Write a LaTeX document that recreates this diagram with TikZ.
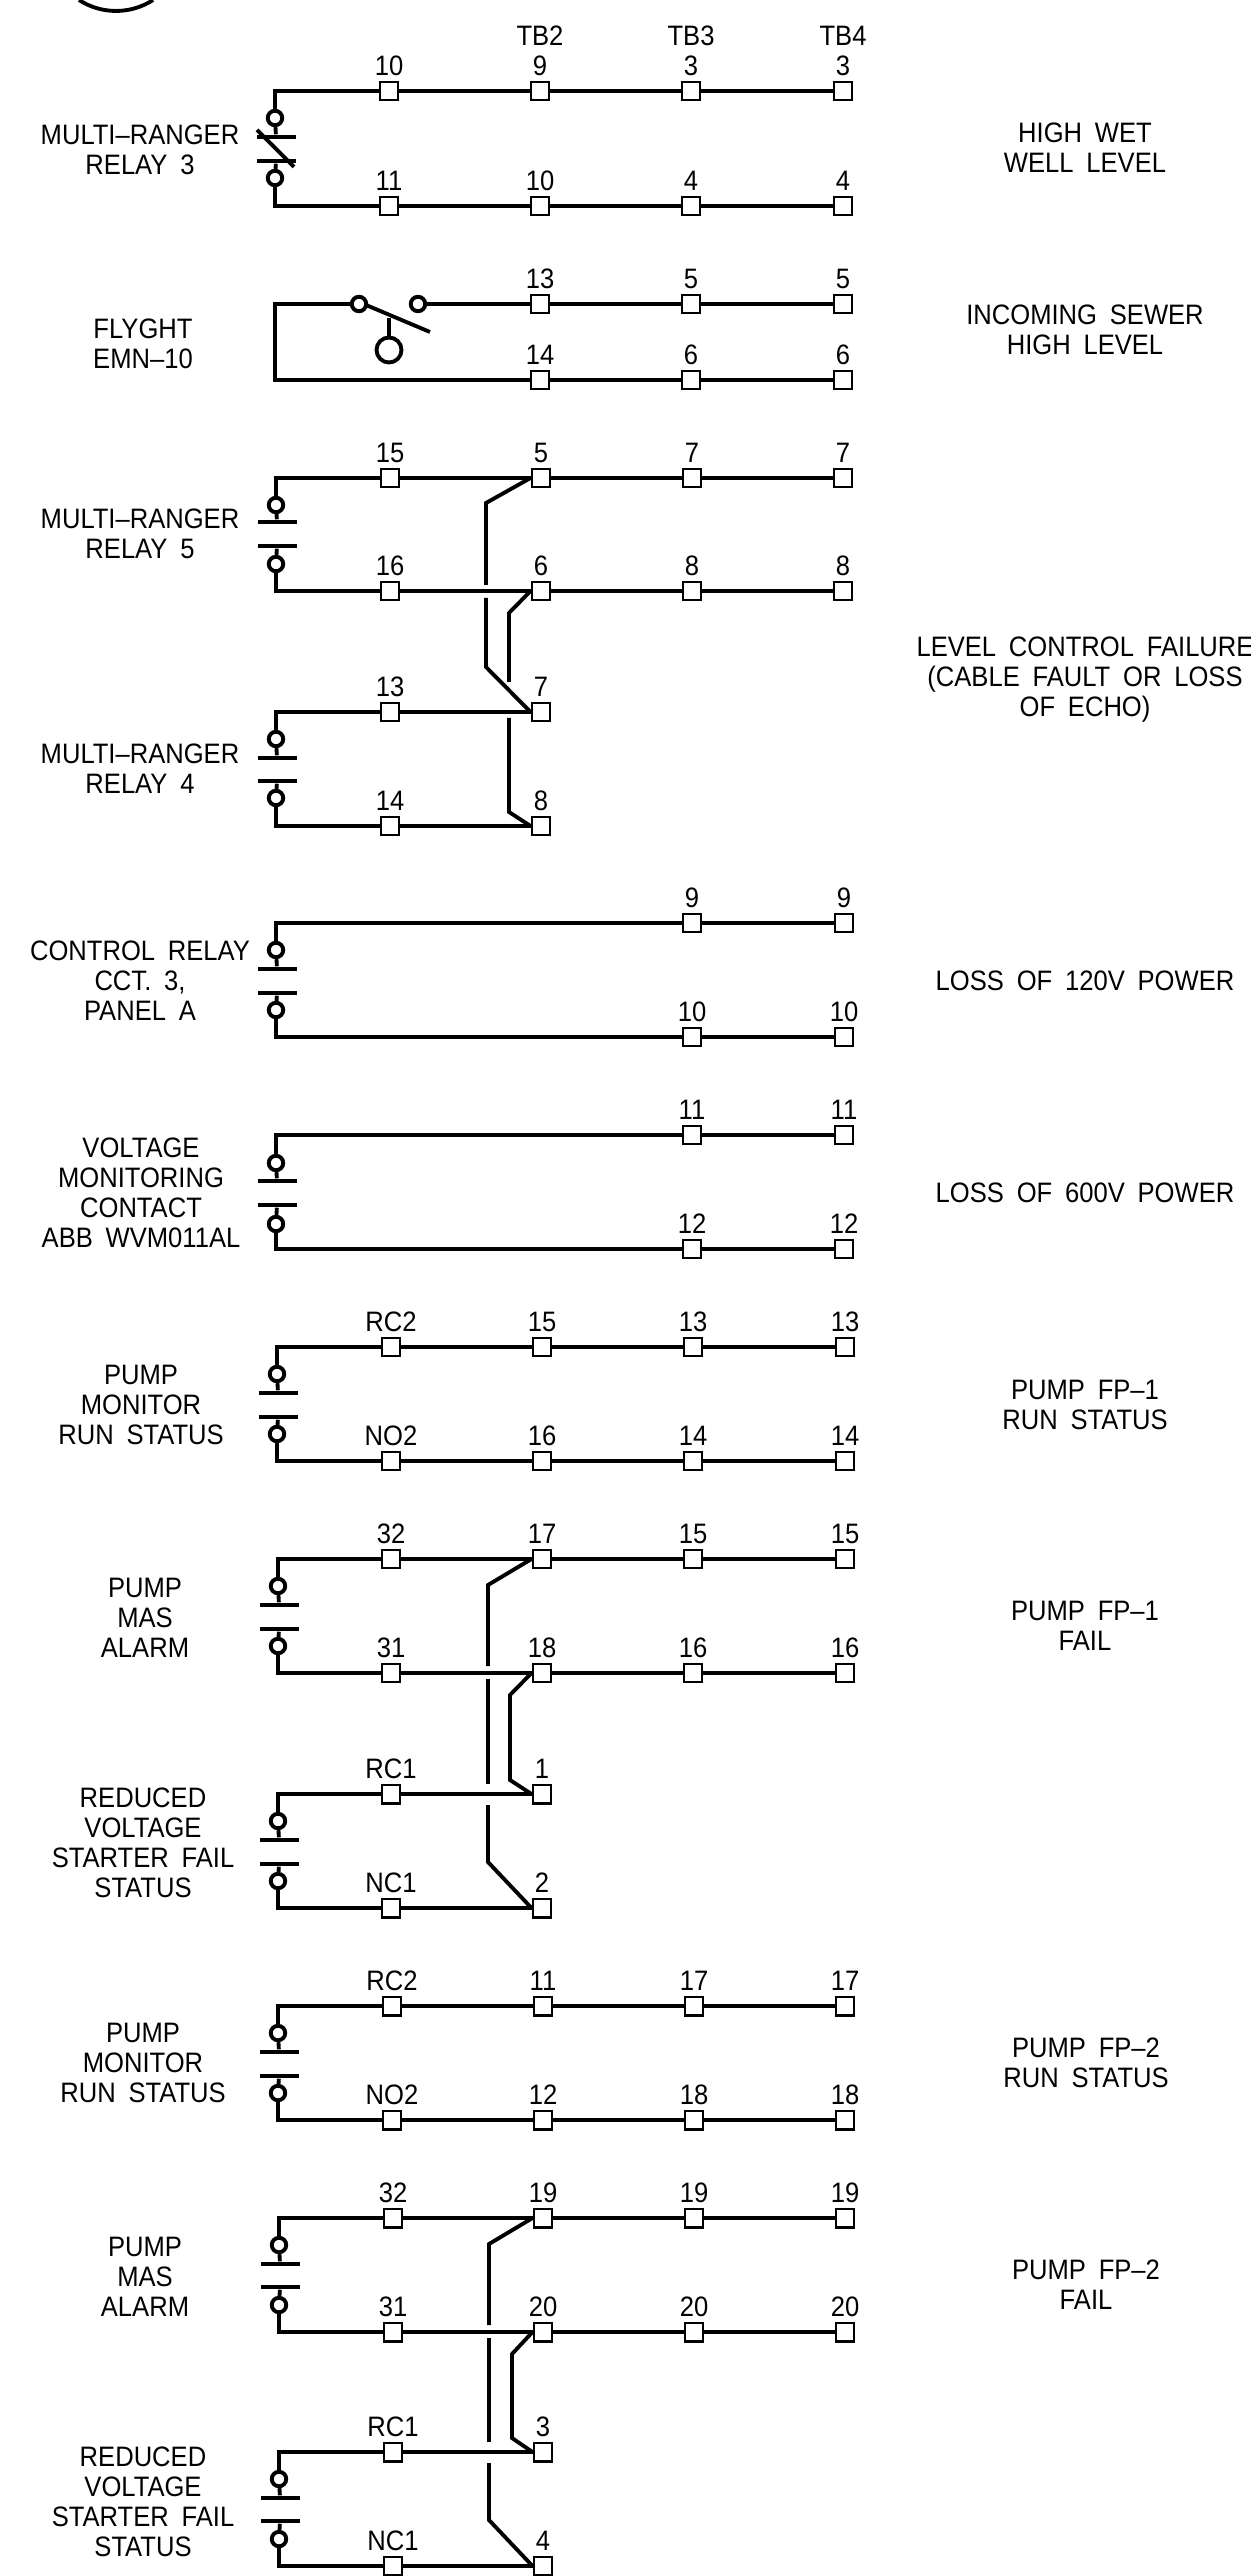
\documentclass[tikz,border=0pt]{standalone}
\usepackage{fontspec}
\setmainfont[FakeStretch=0.91,WordSpace=1.8]{Liberation Sans}

\tikzset{
  wire/.style={line width=1.1pt},
  lab/.style={align=center,inner sep=0pt,font=\fontsize{8}{8.55}\selectfont},
  term/.style={draw,fill=white,line width=0.7pt,minimum size=0.185cm,inner sep=0pt,
    label={[inner sep=0pt,yshift=0.04cm,font=\fontsize{8}{8.55}\selectfont]above:#1}},
  ring/.style={circle,draw,line width=1.1pt,fill=white,minimum size=0.145cm,inner sep=0pt},
  bar/.style={rectangle,fill=black,minimum width=0.39cm,minimum height=0.04cm,inner sep=0pt}
}

\begin{document}
\begin{tikzpicture}
\useasboundingbox (0,0) rectangle (12.51,-25.76);

\draw[wire] (0.79,0) arc (-123:-57:0.68);

\node[lab] (tb2) at (5.40,-0.36) {TB2};
\node[lab] (tb3) at (6.91,-0.36) {TB3};
\node[lab] (tb4) at (8.43,-0.36) {TB4};

% multi-ranger relay 3
\node[lab] (lmr3) at (1.40,-1.50) {MULTI--RANGER\\RELAY 3};
\node[lab] (rmr3) at (10.85,-1.48) {HIGH WET\\WELL LEVEL};
\node[term=10] (a1) at (3.89,-0.91) {};
\node[term=9] (a2) at (5.40,-0.91) {};
\node[term=3] (a3) at (6.91,-0.91) {};
\node[term=3] (a4) at (8.43,-0.91) {};
\node[term=11] (b1) at (3.89,-2.06) {};
\node[term=10] (b2) at (5.40,-2.06) {};
\node[term=4] (b3) at (6.91,-2.06) {};
\node[term=4] (b4) at (8.43,-2.06) {};
\node[ring] (ka1) at (2.75,-1.18) {};
\node[ring] (kb1) at (2.75,-1.78) {};
\node[bar] (ua1) at (2.76,-1.37) {};
\node[bar] (ub1) at (2.76,-1.61) {};
\coordinate (sa1) at (2.57,-1.30);
\coordinate (sb1) at (2.94,-1.67);
\draw[wire] (ka1) |- (a1) -- (a2) -- (a3) -- (a4);
\draw[wire] (kb1) |- (b1) -- (b2) -- (b3) -- (b4);
\draw[wire] (ka1) -- (ua1);
\draw[wire] (kb1) -- (ub1);
\draw[wire] (sa1) -- (sb1);

% flyght
\node[lab] (lfl) at (1.43,-3.44) {FLYGHT\\EMN--10};
\node[lab] (rfl) at (10.85,-3.30) {INCOMING SEWER\\HIGH LEVEL};
\node[term=13] (c2) at (5.40,-3.04) {};
\node[term=5] (c3) at (6.91,-3.04) {};
\node[term=5] (c4) at (8.43,-3.04) {};
\node[term=14] (d2) at (5.40,-3.80) {};
\node[term=6] (d3) at (6.91,-3.80) {};
\node[term=6] (d4) at (8.43,-3.80) {};
\node[ring] (fa) at (3.59,-3.04) {};
\node[ring] (fb) at (4.18,-3.04) {};
\node[circle,draw,line width=1.1pt,minimum size=0.25cm,inner sep=0pt] (fc) at (3.89,-3.50) {};
\coordinate (fl) at (2.75,-3.04);
\coordinate (sa2) at (3.66,-3.05);
\coordinate (sb2) at (4.30,-3.32);
\coordinate (sc2) at (3.89,-3.18);
\draw[wire] (fa) -- (fl) |- (d2) -- (d3) -- (d4);
\draw[wire] (fb) -- (c2) -- (c3) -- (c4);
\draw[wire] (sa2) -- (sb2);
\draw[wire] (sc2) -- (fc);

% multi-ranger relay 5
\node[lab] (lmr5) at (1.40,-5.34) {MULTI--RANGER\\RELAY 5};
\node[lab] (rmr5) at (10.85,-6.80) {LEVEL CONTROL FAILURE\\(CABLE FAULT OR LOSS\\OF ECHO)};
\node[term=15] (e1) at (3.90,-4.78) {};
\node[term=5] (e2) at (5.41,-4.78) {};
\node[term=7] (e3) at (6.92,-4.78) {};
\node[term=7] (e4) at (8.43,-4.78) {};
\node[term=16] (f1) at (3.90,-5.91) {};
\node[term=6] (f2) at (5.41,-5.91) {};
\node[term=8] (f3) at (6.92,-5.91) {};
\node[term=8] (f4) at (8.43,-5.91) {};
\node[ring] (ka3) at (2.76,-5.05) {};
\node[ring] (kb3) at (2.76,-5.64) {};
\node[bar] (ua3) at (2.77,-5.22) {};
\node[bar] (ub3) at (2.77,-5.46) {};
\draw[wire] (ka3) |- (e1) -- (e2) -- (e3) -- (e4);
\draw[wire] (kb3) |- (f1) -- (f2) -- (f3) -- (f4);
\draw[wire] (ka3) -- (ua3);
\draw[wire] (kb3) -- (ub3);

% multi-ranger relay 4
\node[lab] (lmr4) at (1.40,-7.69) {MULTI--RANGER\\RELAY 4};
\node[term=13] (g1) at (3.90,-7.12) {};
\node[term=7] (g2) at (5.41,-7.12) {};
\node[term=14] (h1) at (3.90,-8.26) {};
\node[term=8] (h2) at (5.41,-8.26) {};
\node[ring] (ka4) at (2.76,-7.39) {};
\node[ring] (kb4) at (2.76,-7.98) {};
\node[bar] (ua4) at (2.77,-7.58) {};
\node[bar] (ub4) at (2.77,-7.81) {};
\draw[wire] (ka4) |- (g1) -- (g2);
\draw[wire] (kb4) |- (h1) -- (h2);
\draw[wire] (ka4) -- (ua4);
\draw[wire] (kb4) -- (ub4);

\coordinate (ja1) at (4.86,-5.03);
\coordinate (ja2) at (4.86,-5.85);
\coordinate (ja3) at (4.86,-5.98);
\coordinate (ja4) at (4.86,-6.67);
\coordinate (jb1) at (5.09,-6.13);
\coordinate (jb2) at (5.09,-6.82);
\coordinate (jb3) at (5.09,-7.18);
\coordinate (jb4) at (5.09,-8.12);
\draw[wire] (e2.west) -- (ja1) -- (ja2);
\draw[wire] (ja3) -- (ja4) -- (g2.west);
\draw[wire] (f2.west) -- (jb1) -- (jb2);
\draw[wire] (jb3) -- (jb4) -- (h2.west);

% control relay
\node[lab] (lcr) at (1.40,-9.81) {CONTROL RELAY\\CCT. 3,\\PANEL A};
\node[lab] (rcr) at (10.85,-9.81) {LOSS OF 120V POWER};
\node[term=9] (i3) at (6.92,-9.23) {};
\node[term=9] (i4) at (8.44,-9.23) {};
\node[term=10] (j3) at (6.92,-10.37) {};
\node[term=10] (j4) at (8.44,-10.37) {};
\node[ring] (ka5) at (2.76,-9.50) {};
\node[ring] (kb5) at (2.76,-10.10) {};
\node[bar] (ua5) at (2.77,-9.69) {};
\node[bar] (ub5) at (2.77,-9.93) {};
\draw[wire] (ka5) |- (i3) -- (i4);
\draw[wire] (kb5) |- (j3) -- (j4);
\draw[wire] (ka5) -- (ua5);
\draw[wire] (kb5) -- (ub5);

% voltage monitoring
\node[lab] (lvm) at (1.41,-11.93) {VOLTAGE\\MONITORING\\CONTACT\\ABB WVM011AL};
\node[lab] (rvm) at (10.85,-11.93) {LOSS OF 600V POWER};
\node[term=11] (k3) at (6.92,-11.35) {};
\node[term=11] (k4) at (8.44,-11.35) {};
\node[term=12] (l3) at (6.92,-12.49) {};
\node[term=12] (l4) at (8.44,-12.49) {};
\node[ring] (ka6) at (2.76,-11.63) {};
\node[ring] (kb6) at (2.76,-12.24) {};
\node[bar] (ua6) at (2.77,-11.81) {};
\node[bar] (ub6) at (2.77,-12.05) {};
\draw[wire] (ka6) |- (k3) -- (k4);
\draw[wire] (kb6) |- (l3) -- (l4);
\draw[wire] (ka6) -- (ua6);
\draw[wire] (kb6) -- (ub6);

% pump fp-1 monitor
\node[lab] (lpm1) at (1.41,-14.05) {PUMP\\MONITOR\\RUN STATUS};
\node[lab] (rpm1) at (10.85,-14.05) {PUMP FP--1\\RUN STATUS};
\node[term=RC2] (m1) at (3.91,-13.47) {};
\node[term=15] (m2) at (5.42,-13.47) {};
\node[term=13] (m3) at (6.93,-13.47) {};
\node[term=13] (m4) at (8.45,-13.47) {};
\node[term=NO2] (n1) at (3.91,-14.61) {};
\node[term=16] (n2) at (5.42,-14.61) {};
\node[term=14] (n3) at (6.93,-14.61) {};
\node[term=14] (n4) at (8.45,-14.61) {};
\node[ring] (ka7) at (2.77,-13.74) {};
\node[ring] (kb7) at (2.77,-14.34) {};
\node[bar] (ua7) at (2.78,-13.93) {};
\node[bar] (ub7) at (2.78,-14.17) {};
\draw[wire] (ka7) |- (m1) -- (m2) -- (m3) -- (m4);
\draw[wire] (kb7) |- (n1) -- (n2) -- (n3) -- (n4);
\draw[wire] (ka7) -- (ua7);
\draw[wire] (kb7) -- (ub7);

% pump fp-1 alarm
\node[lab] (lpa1) at (1.45,-16.18) {PUMP\\MAS\\ALARM};
\node[lab] (rpa1) at (10.85,-16.26) {PUMP FP--1\\FAIL};
\node[term=32] (o1) at (3.91,-15.59) {};
\node[term=17] (o2) at (5.42,-15.59) {};
\node[term=15] (o3) at (6.93,-15.59) {};
\node[term=15] (o4) at (8.45,-15.59) {};
\node[term=31] (p1) at (3.91,-16.73) {};
\node[term=18] (p2) at (5.42,-16.73) {};
\node[term=16] (p3) at (6.93,-16.73) {};
\node[term=16] (p4) at (8.45,-16.73) {};
\node[ring] (ka8) at (2.78,-15.86) {};
\node[ring] (kb8) at (2.78,-16.46) {};
\node[bar] (ua8) at (2.79,-16.05) {};
\node[bar] (ub8) at (2.79,-16.29) {};
\draw[wire] (ka8) |- (o1) -- (o2) -- (o3) -- (o4);
\draw[wire] (kb8) |- (p1) -- (p2) -- (p3) -- (p4);
\draw[wire] (ka8) -- (ua8);
\draw[wire] (kb8) -- (ub8);

% reduced voltage starter 1
\node[lab] (lrv1) at (1.43,-18.43) {REDUCED\\VOLTAGE\\STARTER FAIL\\STATUS};
\node[term=RC1] (q1) at (3.91,-17.94) {};
\node[term=1] (q2) at (5.42,-17.94) {};
\node[term=NC1] (r1) at (3.91,-19.08) {};
\node[term=2] (r2) at (5.42,-19.08) {};
\node[ring] (ka9) at (2.78,-18.21) {};
\node[ring] (kb9) at (2.78,-18.81) {};
\node[bar] (ua9) at (2.79,-18.40) {};
\node[bar] (ub9) at (2.79,-18.64) {};
\draw[wire] (ka9) |- (q1) -- (q2);
\draw[wire] (kb9) |- (r1) -- (r2);
\draw[wire] (ka9) -- (ua9);
\draw[wire] (kb9) -- (ub9);

\coordinate (la1) at (4.88,-15.85);
\coordinate (la2) at (4.88,-16.66);
\coordinate (la3) at (4.88,-16.79);
\coordinate (la4) at (4.88,-17.84);
\coordinate (la5) at (4.88,-18.05);
\coordinate (la6) at (4.88,-18.62);
\coordinate (lb1) at (5.10,-16.95);
\coordinate (lb2) at (5.10,-17.80);
\draw[wire] (o2.west) -- (la1) -- (la2);
\draw[wire] (la3) -- (la4);
\draw[wire] (la5) -- (la6) -- (r2.west);
\draw[wire] (p2.west) -- (lb1) -- (lb2) -- (q2.west);

% pump fp-2 monitor
\node[lab] (lpm2) at (1.43,-20.63) {PUMP\\MONITOR\\RUN STATUS};
\node[lab] (rpm2) at (10.86,-20.63) {PUMP FP--2\\RUN STATUS};
\node[term=RC2] (s1) at (3.92,-20.06) {};
\node[term=11] (s2) at (5.43,-20.06) {};
\node[term=17] (s3) at (6.94,-20.06) {};
\node[term=17] (s4) at (8.45,-20.06) {};
\node[term=NO2] (t1) at (3.92,-21.20) {};
\node[term=12] (t2) at (5.43,-21.20) {};
\node[term=18] (t3) at (6.94,-21.20) {};
\node[term=18] (t4) at (8.45,-21.20) {};
\node[ring] (ka10) at (2.78,-20.33) {};
\node[ring] (kb10) at (2.78,-20.93) {};
\node[bar] (ua10) at (2.79,-20.52) {};
\node[bar] (ub10) at (2.79,-20.76) {};
\draw[wire] (ka10) |- (s1) -- (s2) -- (s3) -- (s4);
\draw[wire] (kb10) |- (t1) -- (t2) -- (t3) -- (t4);
\draw[wire] (ka10) -- (ua10);
\draw[wire] (kb10) -- (ub10);

% pump fp-2 alarm
\node[lab] (lpa2) at (1.45,-22.77) {PUMP\\MAS\\ALARM};
\node[lab] (rpa2) at (10.86,-22.85) {PUMP FP--2\\FAIL};
\node[term=32] (u1) at (3.93,-22.18) {};
\node[term=19] (u2) at (5.43,-22.18) {};
\node[term=19] (u3) at (6.94,-22.18) {};
\node[term=19] (u4) at (8.45,-22.18) {};
\node[term=31] (v1) at (3.93,-23.32) {};
\node[term=20] (v2) at (5.43,-23.32) {};
\node[term=20] (v3) at (6.94,-23.32) {};
\node[term=20] (v4) at (8.45,-23.32) {};
\node[ring] (ka11) at (2.79,-22.45) {};
\node[ring] (kb11) at (2.79,-23.05) {};
\node[bar] (ua11) at (2.80,-22.64) {};
\node[bar] (ub11) at (2.80,-22.87) {};
\draw[wire] (ka11) |- (u1) -- (u2) -- (u3) -- (u4);
\draw[wire] (kb11) |- (v1) -- (v2) -- (v3) -- (v4);
\draw[wire] (ka11) -- (ua11);
\draw[wire] (kb11) -- (ub11);

% reduced voltage starter 2
\node[lab] (lrv2) at (1.43,-25.02) {REDUCED\\VOLTAGE\\STARTER FAIL\\STATUS};
\node[term=RC1] (w1) at (3.93,-24.52) {};
\node[term=3] (w2) at (5.43,-24.52) {};
\node[term=NC1] (x1) at (3.93,-25.66) {};
\node[term=4] (x2) at (5.43,-25.66) {};
\node[ring] (ka12) at (2.79,-24.79) {};
\node[ring] (kb12) at (2.79,-25.39) {};
\node[bar] (ua12) at (2.80,-24.98) {};
\node[bar] (ub12) at (2.80,-25.21) {};
\draw[wire] (ka12) |- (w1) -- (w2);
\draw[wire] (kb12) |- (x1) -- (x2);
\draw[wire] (ka12) -- (ua12);
\draw[wire] (kb12) -- (ub12);

\coordinate (na1) at (4.89,-22.44);
\coordinate (na2) at (4.89,-23.25);
\coordinate (na3) at (4.89,-23.38);
\coordinate (na4) at (4.89,-24.42);
\coordinate (na5) at (4.89,-24.63);
\coordinate (na6) at (4.89,-25.20);
\coordinate (nb1) at (5.12,-23.54);
\coordinate (nb2) at (5.12,-24.38);
\draw[wire] (u2.west) -- (na1) -- (na2);
\draw[wire] (na3) -- (na4);
\draw[wire] (na5) -- (na6) -- (x2.west);
\draw[wire] (v2.west) -- (nb1) -- (nb2) -- (w2.west);

\end{tikzpicture}
\end{document}
